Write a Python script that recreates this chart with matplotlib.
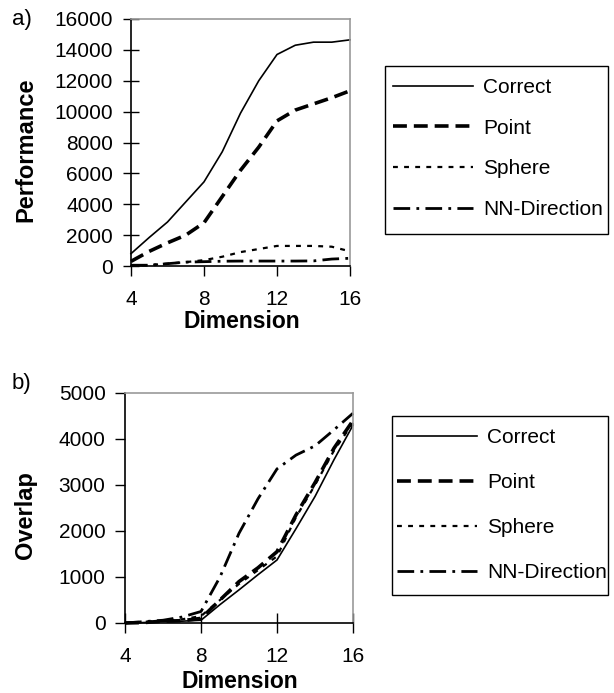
import matplotlib
matplotlib.use("Agg")
import matplotlib.pyplot as plt
from matplotlib.patches import Rectangle
import numpy as np

plt.rcParams["font.family"] = ["Liberation Sans", "DejaVu Sans"]
plt.rcParams["lines.scale_dashes"] = False

dims = [4, 5, 6, 7, 8, 9, 10, 11, 12, 13, 14, 15, 16]
series_names = ["Correct", "Point", "Sphere", "NN-Direction"]

# a) performance
perf_correct = [800, 1850, 2850, 4150, 5450, 7400, 9900, 12000, 13700, 14300, 14500, 14500, 14650]
perf_point = [300, 950, 1500, 2000, 2800, 4500, 6200, 7700, 9400, 10100, 10500, 10900, 11350]
perf_sphere = [50, 60, 150, 250, 380, 600, 900, 1100, 1300, 1300, 1300, 1250, 950]
perf_nn = [50, 50, 150, 250, 280, 310, 320, 320, 320, 320, 330, 450, 500]

# b) overlap
ovl_correct = [0, 10, 30, 40, 60, 400, 720, 1050, 1370, 2050, 2750, 3550, 4300]
ovl_point = [0, 10, 40, 50, 100, 500, 900, 1200, 1550, 2350, 3050, 3800, 4400]
ovl_sphere = [0, 20, 50, 80, 150, 500, 850, 1150, 1450, 2300, 3000, 3750, 4350]
ovl_nn = [0, 30, 60, 130, 250, 1000, 1950, 2700, 3350, 3650, 3850, 4200, 4560]

styles = [
    dict(color="black", lw=1.2, linestyle="-"),
    dict(color="black", lw=2.6, linestyle=(0, (10, 5))),
    dict(color="black", lw=1.6, linestyle=(0, (3.5, 4.5))),
    dict(color="black", lw=2.0, linestyle=(0, (12, 4.5, 2, 4.5))),
]

W, H = 614, 693
fig = plt.figure(figsize=(W / 100, H / 100), dpi=100)


def fx(x):
    return x / W


def fy(y):
    return 1 - y / H


def px_axes(left, top, right, bottom):
    return fig.add_axes([fx(left), fy(bottom), (right - left) / W, (bottom - top) / H])


def style_axes(ax, ymax, ystep, xdir, xlen, xpad, ydir, ylen, ypad):
    ax.set_xlim(4, 16)
    ax.set_ylim(0, ymax)
    ax.set_xticks([4, 8, 12, 16])
    ax.set_yticks(np.arange(0, ymax + 1, ystep))
    ax.tick_params(axis="x", direction=xdir, length=xlen, width=1, labelsize=15, pad=xpad)
    ax.tick_params(axis="y", direction=ydir, length=ylen, width=1, labelsize=15, pad=ypad)
    for side in ["top", "right"]:
        ax.spines[side].set_color("#999999")
    for side in ["top", "right", "left", "bottom"]:
        ax.spines[side].set_linewidth(1.2)


def add_legend(ax, left, top_row, spacing, box):
    leg = ax.legend(loc="upper left", bbox_to_anchor=(fx(left), fy(top_row)), bbox_transform=fig.transFigure,
                    frameon=False, fontsize=15, handlelength=3.85, handletextpad=0.48,
                    labelspacing=spacing, borderpad=0, borderaxespad=0)
    x0, y0, x1, y1 = box
    fig.add_artist(Rectangle((fx(x0), fy(y1)), (x1 - x0) / W, (y1 - y0) / H, transform=fig.transFigure,
                             fill=False, edgecolor="black", lw=1.0))
    return leg


# panel a
ax1 = px_axes(131, 19, 350, 266)
for name, vals, st in zip(series_names, [perf_correct, perf_point, perf_sphere, perf_nn], styles):
    ax1.plot(dims, vals, label=name, clip_on=False, **st)
style_axes(ax1, 16000, 2000, "out", 7, 10.5, "inout", 12, 7)
add_legend(ax1, 393, 78, 1.04, (385, 66, 608, 234))
fig.text(fx(12), fy(19), "a)", fontsize=16, va="center", ha="left")
fig.text(fx(26), fy(150), "Performance", fontsize=17, fontweight="bold", rotation=90, va="center", ha="center")
fig.text(fx(242), fy(321), "Dimension", fontsize=16.5, fontweight="bold", va="center", ha="center")

# panel b
ax2 = px_axes(125, 393, 353, 623)
for name, vals, st in zip(series_names, [ovl_correct, ovl_point, ovl_sphere, ovl_nn], styles):
    ax2.plot(dims, vals, label=name, clip_on=False, **st)
style_axes(ax2, 5000, 1000, "inout", 14, 10, "out", 7, 7)
add_legend(ax2, 397, 428, 1.25, (392, 416, 608, 595))
fig.text(fx(12), fy(383), "b)", fontsize=16, va="center", ha="left")
fig.text(fx(25), fy(515), "Overlap", fontsize=17, fontweight="bold", rotation=90, va="center", ha="center")
fig.text(fx(240), fy(682), "Dimension", fontsize=16.5, fontweight="bold", va="center", ha="center")

fig.savefig("out.png", dpi=100)
